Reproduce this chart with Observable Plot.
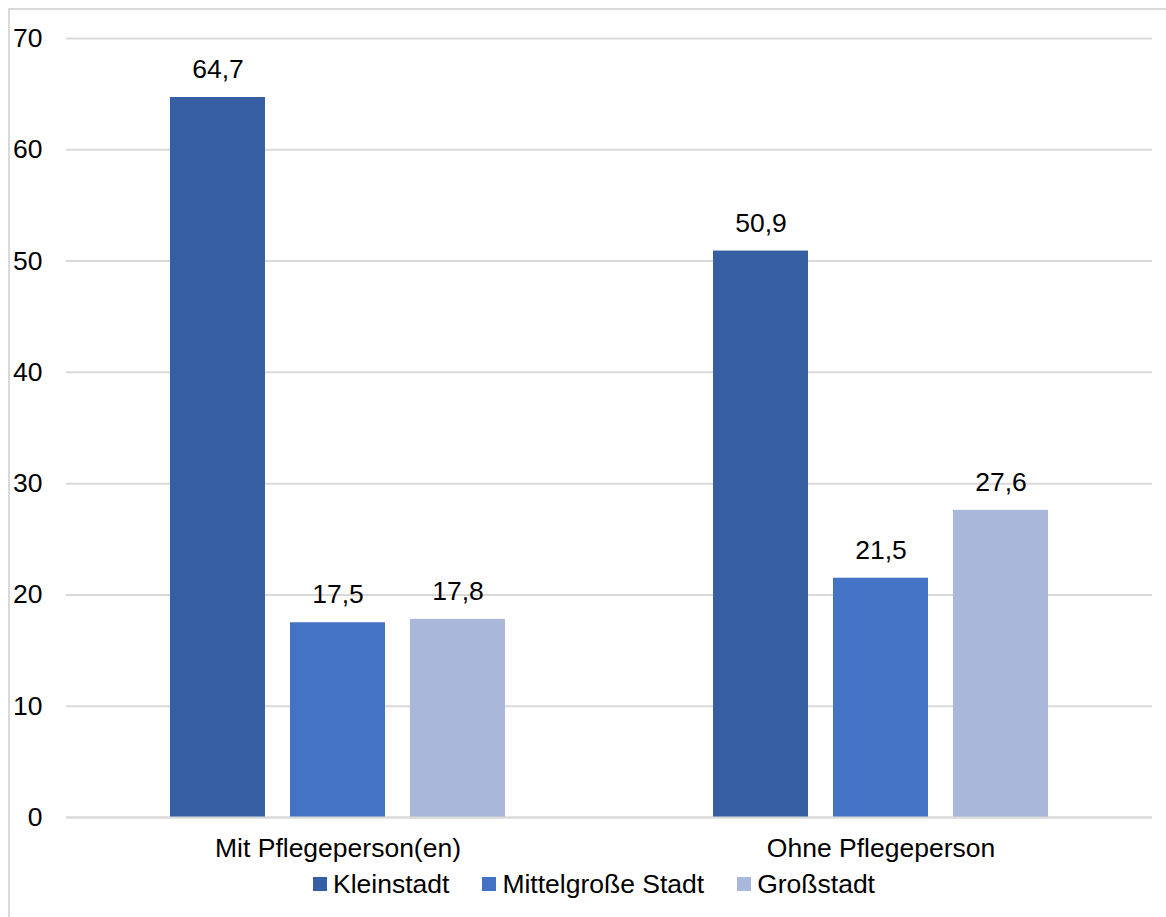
<!DOCTYPE html>
<html>
<head>
<meta charset="utf-8">
<script src="https://cdn.jsdelivr.net/npm/d3@7"></script>
<script src="https://cdn.jsdelivr.net/npm/@observablehq/plot@0.6"></script>
<style>
  html, body { margin: 0; padding: 0; background: #fff; overflow: hidden; width: 1166px; height: 917px; }
  #chart { position: absolute; left: 0; top: 0; }
  #frame { position: absolute; left: 8px; top: 8px; width: 1300px; height: 1000px;
           border-left: 2px solid #d9d9d9; border-top: 2px solid #d9d9d9; pointer-events: none; }
  #legend { position: absolute; left: 313px; top: 870px; height: 28px; display: flex; align-items: center;
            font-family: "Liberation Sans", Arial, sans-serif; font-size: 26.5px; line-height: 28px; color: #000; }
  .item { display: flex; align-items: center; margin-right: 33px; }
  .sw { width: 14px; height: 14px; margin-right: 6px; }
</style>
</head>
<body>
<div id="chart"></div>
<div id="legend"></div>
<div id="frame"></div>
<script>
const groups = ["Mit Pflegeperson(en)", "Ohne Pflegeperson"];
const series = ["Kleinstadt", "Mittelgroße Stadt", "Großstadt"];
const kleinstadt = [64.7, 50.9];
const mittelgrosseStadt = [17.5, 21.5];
const grossstadt = [17.8, 27.6];
const colors = ["#355fa2", "#4472c4", "#a9b7db"];
const yTicks = [0, 10, 20, 30, 40, 50, 60, 70];

const seriesValues = [kleinstadt, mittelgrosseStadt, grossstadt];
const data = [];
groups.forEach((g, gi) => {
  series.forEach((s, si) => {
    data.push({group: g, series: s, value: seriesValues[si][gi]});
  });
});

const fmt = d3.formatLocale({decimal: ",", thousands: ".", grouping: [3], currency: ["", " €"]}).format(".1f");

const chart = Plot.plot({
  width: 1166,
  height: 870,
  marginLeft: 66,
  marginRight: 14,
  marginTop: 38,
  marginBottom: 53,
  style: {fontFamily: "'Liberation Sans', Arial, sans-serif", fontSize: "26.5px", color: "#000", background: "transparent"},
  fx: {domain: groups, padding: 0, label: null},
  x: {domain: series, paddingInner: 0.2116, paddingOuter: 0.859, axis: null},
  y: {domain: [0, 70], label: null},
  color: {domain: series, range: colors},
  marks: [
    Plot.gridY(yTicks, {stroke: "#d9d9d9", strokeOpacity: 1, strokeWidth: 2}),
    Plot.barY(data, {fx: "group", x: "series", y: "value", fill: "series"}),
    Plot.ruleY([0], {stroke: "#d9d9d9", strokeWidth: 2}),
    Plot.text(data, {fx: "group", x: "series", y: "value", text: d => fmt(d.value), dy: -28,
                     lineAnchor: "middle", textAnchor: "middle", fill: "#000"}),
    Plot.axisY(yTicks, {tickSize: 0, tickPadding: 24, label: null, tickFormat: d => String(d)}),
    Plot.axisFx({anchor: "bottom", tickSize: 0, tickPadding: 21, label: null})
  ]
});
document.getElementById("chart").appendChild(chart);

const legend = document.getElementById("legend");
series.forEach((s, i) => {
  const item = document.createElement("div");
  item.className = "item";
  const sw = document.createElement("div");
  sw.className = "sw";
  sw.style.background = colors[i];
  const label = document.createElement("span");
  label.textContent = s;
  item.appendChild(sw);
  item.appendChild(label);
  legend.appendChild(item);
});
</script>
</body>
</html>
